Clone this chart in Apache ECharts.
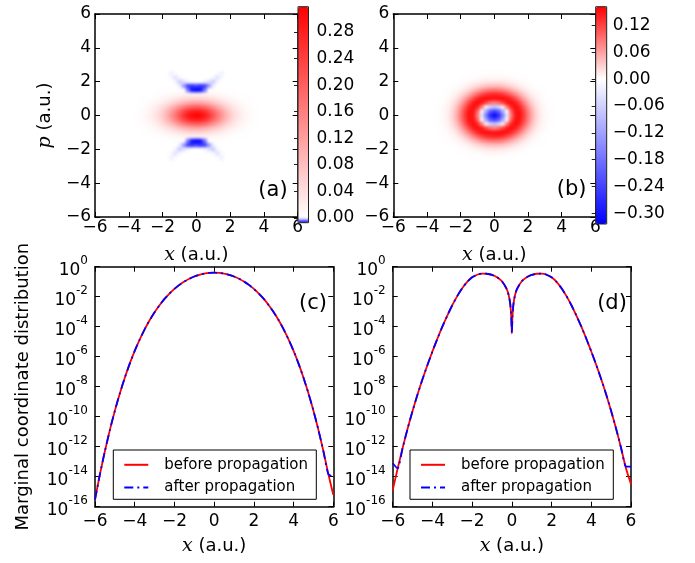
<!DOCTYPE html>
<html><head><meta charset="utf-8">
<script src="https://cdn.jsdelivr.net/npm/echarts@6/dist/echarts.min.js"></script>
<style>
html,body{margin:0;padding:0;background:#fff}
#wrap{position:relative;width:695px;height:563px}
#heat{position:absolute;left:0;top:0;width:695px;height:563px;filter:blur(1.5px)}
#c{position:absolute;left:0;top:0;width:695px;height:563px}
</style>
</head><body><div id="wrap"><div id="heat"></div><div id="c"></div></div>
<script>
// ---------- DATA ----------
const heatX = [-3.5,-3.25,-3,-2.75,-2.5,-2.25,-2,-1.75,-1.5,-1.25,-1,-0.75,-0.5,-0.25,0,0.25,0.5,0.75,1,1.25,1.5,1.75,2,2.25,2.5,2.75,3,3.25,3.5];
const heatP = [2.5,2.25,2,1.75,1.5,1.25,1,0.75,0.5,0.25,0,-0.25,-0.5,-0.75,-1,-1.25,-1.5,-1.75,-2,-2.25,-2.5];

// panel (a) rows (by |p|), columns follow heatX
const wa_p0   = [.0029,.0055,.010,.0174,.029,.045,.068,.098,.134,.174,.217,.256,.289,.310,.318,.310,.289,.256,.217,.174,.134,.098,.068,.045,.029,.0174,.010,.0055,.0029];
const wa_p025 = [.0026,.0049,.0089,.0155,.026,.040,.061,.087,.120,.156,.193,.229,.258,.277,.284,.277,.258,.229,.193,.156,.120,.087,.061,.040,.026,.0155,.0089,.0049,.0026];
const wa_p05  = [.0018,.0035,.0064,.011,.018,.029,.044,.063,.085,.111,.138,.164,.184,.198,.203,.198,.184,.164,.138,.111,.085,.063,.044,.029,.018,.011,.0064,.0035,.0018];
const wa_p075 = [.001,.002,.0036,.0063,.010,.016,.025,.035,.048,.063,.078,.093,.104,.112,.115,.112,.104,.093,.078,.063,.048,.035,.025,.016,.010,.0063,.0036,.002,.001];
const wa_p1   = [.0005,.0009,.0017,.0029,.0047,.0075,.011,.016,.022,.029,.036,.042,.048,.051,.0525,.051,.048,.042,.036,.029,.022,.016,.011,.0075,.0047,.0029,.0017,.0009,.0005];
const wa_p125 = [.0002,.0003,.0006,.001,.0017,.0027,.0041,.0059,.008,.0105,.013,.015,.017,.018,.018,.018,.017,.015,.013,.0105,.008,.0059,.0041,.0027,.0017,.001,.0006,.0003,.0002];
const wa_p15  = [0,.0001,.0002,.0003,.0005,.0008,.0012,.0017,.0023,.003,.0037,.002,-.004,-.007,-.0074,-.007,-.004,.002,.0037,.003,.0023,.0017,.0012,.0008,.0005,.0003,.0002,.0001,0];
const wa_p175 = [0,0,0,0,0,0,0,.0001,.0002,.0003,-.0005,-.003,-.0055,-.006,-.0055,-.006,-.0055,-.003,-.0005,.0003,.0002,.0001,0,0,0,0,0,0,0];
const wa_p2   = [0,0,0,0,0,0,0,0,0,-.0003,-.0015,-.0009,-.0003,0,0,0,-.0003,-.0009,-.0015,-.0003,0,0,0,0,0,0,0,0,0];
const wa_p225 = [0,0,0,0,0,0,0,0,-.0002,-.0009,-.0002,0,0,0,0,0,0,0,-.0002,-.0009,-.0002,0,0,0,0,0,0,0,0];
const wa_p25  = [0,0,0,0,0,0,0,0,-.0004,-.0001,0,0,0,0,0,0,0,0,0,-.0001,-.0004,0,0,0,0,0,0,0,0];
const Wa = [wa_p25,wa_p225,wa_p2,wa_p175,wa_p15,wa_p125,wa_p1,wa_p075,wa_p05,wa_p025,wa_p0,wa_p025,wa_p05,wa_p075,wa_p1,wa_p125,wa_p15,wa_p175,wa_p2,wa_p225,wa_p25];

// panel (b) rows
const wb_p0   = [.0006,.0018,.0049,.012,.026,.051,.086,.125,.153,.146,.084,-.031,-.164,-.275,-.318,-.275,-.164,-.031,.084,.146,.153,.125,.086,.051,.026,.012,.0049,.0018,.0006];
const wb_p025 = [.0005,.0017,.0046,.011,.025,.048,.082,.121,.151,.151,.102,.0034,-.111,-.207,-.244,-.207,-.111,.0034,.102,.151,.151,.121,.082,.048,.025,.011,.0046,.0017,.0005];
const wb_p05  = [.0004,.0013,.0037,.0092,.020,.040,.070,.107,.141,.156,.139,.084,.008,-.053,-.077,-.053,.008,.084,.139,.156,.141,.107,.070,.040,.020,.0092,.0037,.0013,.0004];
const wb_p075 = [.0003,.0009,.0026,.0065,.015,.029,.053,.084,.118,.146,.156,.146,.119,.092,.081,.092,.119,.146,.156,.146,.118,.084,.053,.029,.015,.0065,.0026,.0009,.0003];
const wb_p1   = [.0002,.0006,.0016,.004,.0092,.019,.035,.058,.086,.115,.138,.152,.156,.155,.153,.155,.156,.152,.138,.115,.086,.058,.035,.019,.0092,.004,.0016,.0006,.0002];
const wb_p125 = [.0001,.0003,.0008,.0021,.0049,.010,.020,.034,.053,.075,.097,.115,.129,.136,.139,.136,.129,.115,.097,.075,.053,.034,.020,.010,.0049,.0021,.0008,.0003,.0001];
const wb_p15  = [0,.0001,.0004,.001,.0023,.0049,.0095,.017,.027,.040,.054,.068,.079,.086,.088,.086,.079,.068,.054,.040,.027,.017,.0095,.0049,.0023,.001,.0004,.0001,0];
const wb_p175 = [0,0,.0001,.0004,.0009,.002,.0039,.0071,.012,.018,.025,.032,.038,.042,.043,.042,.038,.032,.025,.018,.012,.0071,.0039,.002,.0009,.0004,.0001,0,0];
const wb_p2   = [0,0,0,.0001,.0003,.0006,.0013,.0025,.0042,.0065,.0092,.012,.015,.016,.017,.016,.015,.012,.0092,.0065,.0042,.0025,.0013,.0006,.0003,.0001,0,0,0];
const wb_p225 = [0,0,0,0,.0001,.0002,.0004,.0007,.0012,.002,.0028,.0038,.0046,.0052,.0054,.0052,.0046,.0038,.0028,.002,.0012,.0007,.0004,.0002,.0001,0,0,0,0];
const wb_p25  = [0,0,0,0,0,0,0,.0001,.0002,.0004,.0007,.0009,.0012,.0013,.0014,.0013,.0012,.0009,.0007,.0004,.0002,.0001,0,0,0,0,0,0,0];
const Wb = [wb_p25,wb_p225,wb_p2,wb_p175,wb_p15,wb_p125,wb_p1,wb_p075,wb_p05,wb_p025,wb_p0,wb_p025,wb_p05,wb_p075,wb_p1,wb_p125,wb_p15,wb_p175,wb_p2,wb_p225,wb_p25];

const cbarTicksA = [0,0.04,0.08,0.12,0.16,0.20,0.24,0.28];
const cbarTicksB = [-0.30,-0.24,-0.18,-0.12,-0.06,0,0.06,0.12];
const logTicks = [1e-16,1e-14,1e-12,1e-10,1e-8,1e-6,1e-4,1e-2,1];

// panel (c)
const xC = [-6,-5.75,-5.5,-5.25,-5,-4.75,-4.5,-4.25,-4,-3.75,-3.5,-3.25,-3,-2.75,-2.5,-2.25,-2,-1.75,-1.5,-1.25,-1,-0.75,-0.5,-0.25,0,0.25,0.5,0.75,1,1.25,1.5,1.75,2,2.25,2.5,2.75,3,3.25,3.5,3.75,4,4.25,4.5,4.75,5,5.25,5.5,5.75,6];
const cBefore = [3.0e-16,1.48e-14,5.19e-13,1.32e-11,2.48e-10,3.56e-9,3.94e-8,3.45e-7,2.43e-6,1.40e-5,6.67e-5,2.68e-4,9.18e-4,2.72e-3,7.08e-3,0.0162,0.0333,0.0614,0.103,0.157,0.221,0.286,0.344,0.384,0.398,0.384,0.344,0.286,0.221,0.157,0.103,0.0614,0.0333,0.0162,7.08e-3,2.72e-3,9.18e-4,2.68e-4,6.67e-5,1.40e-5,2.43e-6,3.45e-7,3.94e-8,3.56e-9,2.48e-10,1.32e-11,5.19e-13,1.48e-14,6.3e-16];
const cAfter  = [3.0e-16,1.48e-14,5.19e-13,1.32e-11,2.48e-10,3.56e-9,3.94e-8,3.45e-7,2.43e-6,1.40e-5,6.67e-5,2.68e-4,9.18e-4,2.72e-3,7.08e-3,0.0162,0.0333,0.0614,0.103,0.157,0.221,0.286,0.344,0.384,0.398,0.384,0.344,0.286,0.221,0.157,0.103,0.0614,0.0333,0.0162,7.08e-3,2.72e-3,9.18e-4,2.68e-4,6.67e-5,1.40e-5,2.43e-6,3.45e-7,3.94e-8,3.56e-9,2.48e-10,1.32e-11,5.19e-13,1.48e-14,1.0e-14];

// panel (d)
const xD = [-6,-5.75,-5.5,-5.25,-5,-4.75,-4.5,-4.25,-4,-3.75,-3.5,-3.25,-3,-2.75,-2.5,-2.25,-2,-1.75,-1.5,-1.25,-1,-0.75,-0.5,-0.25,-0.15,-0.08,-0.03,0,0.03,0.08,0.15,0.25,0.5,0.75,1,1.25,1.5,1.75,2,2.25,2.5,2.75,3,3.25,3.5,3.75,4,4.25,4.5,4.75,5,5.25,5.5,5.75,6];
const dBefore = [1.26e-15,3.55e-14,8.3e-13,1.58e-11,2.4e-10,3.02e-9,3.16e-8,2.82e-7,2.24e-6,1.58e-5,1.0e-4,5.5e-4,2.69e-3,0.011,0.0367,0.0977,0.195,0.292,0.347,0.339,0.282,0.2,0.107,0.031,0.0112,3.2e-3,4.5e-4,3.6e-5,4.5e-4,3.2e-3,0.0112,0.031,0.107,0.2,0.282,0.339,0.347,0.292,0.195,0.0977,0.0367,0.011,2.69e-3,5.5e-4,1.0e-4,1.58e-5,2.24e-6,2.82e-7,3.16e-8,3.02e-9,2.4e-10,1.58e-11,8.3e-13,3.55e-14,3.2e-15];
const dAfter  = [7.9e-14,3.55e-14,8.3e-13,1.58e-11,2.4e-10,3.02e-9,3.16e-8,2.82e-7,2.24e-6,1.58e-5,1.0e-4,5.5e-4,2.69e-3,0.011,0.0367,0.0977,0.195,0.292,0.347,0.339,0.282,0.2,0.107,0.031,0.0112,3.2e-3,4.5e-4,3.6e-5,4.5e-4,3.2e-3,0.0112,0.031,0.107,0.2,0.282,0.339,0.347,0.292,0.195,0.0977,0.0367,0.011,2.69e-3,5.5e-4,1.0e-4,1.58e-5,2.24e-6,2.82e-7,3.16e-8,3.02e-9,2.4e-10,1.58e-11,8.3e-13,4.7e-14,4.7e-14];

const seriesNames = ['before propagation','after propagation'];
const panelLabels = ['(a)','(b)','(c)','(d)'];

// ---------- STYLE / LAYOUT ----------
const FONT = 'DejaVu Sans';
const BLACK = '#000';
const TICK_FS = 17;
const HALF = 0.125; // half cell width (data units)
const minus = s => String(s).replace('-', '\u2212');

const colorsA = ['#0000ff'];
for (let k = 0; k <= 43; k++) { const c = Math.round(255 * (1 - k / 43)); colorsA.push('rgb(255,' + c + ',' + c + ')'); }
const colorsB = ['#0000ff', '#8080ff', '#ffffff', '#ff0000'];
const rangeA = [-0.0074, 0.3182];
const rangeB = [-0.324, 0.162];

const gridA = {left: 95, top: 14, width: 202.7, height: 203};
const gridB = {left: 393.3, top: 14, width: 202, height: 203};
const cbarA = {left: 298, top: 6.7, width: 10.5, height: 216};
const cbarB = {left: 595.7, top: 6.7, width: 11, height: 217.3};
const gridC = {left: 95, top: 266.7, width: 238.3, height: 240};
const gridD = {left: 392.7, top: 266.7, width: 238.3, height: 240};
const legendBoxes = [{x: 113.3, y: 450, width: 203, height: 49.3}, {x: 410, y: 450, width: 203.3, height: 49.3}];

function cells(W) {
  const out = [];
  heatP.forEach((p, i) => heatX.forEach((x, j) => out.push([x, p, W[i][j]])));
  return out;
}
function cellRender(params, api) {
  const x = api.value(0), p = api.value(1);
  const a = api.coord([x - HALF, p + HALF]);
  const b = api.coord([x + HALF, p - HALF]);
  return {type: 'rect', shape: {x: a[0], y: a[1], width: b[0] - a[0] + 0.6, height: b[1] - a[1] + 0.6},
          style: {fill: api.visual('color')}};
}

// ---------- heat layer (smoothed) ----------
const heatChart = echarts.init(document.getElementById('heat'), null, {renderer: 'canvas'});
heatChart.setOption({
  animation: false,
  backgroundColor: '#fff',
  grid: [gridA, gridB].map(g => Object.assign({outerBoundsMode: 'none', containLabel: false}, g)),
  xAxis: [0, 1].map(i => ({type: 'value', gridIndex: i, min: -6, max: 6, show: false})),
  yAxis: [0, 1].map(i => ({type: 'value', gridIndex: i, min: -6, max: 6, show: false})),
  visualMap: [
    {type: 'continuous', show: false, seriesIndex: 0, dimension: 2, min: rangeA[0], max: rangeA[1], inRange: {color: colorsA}},
    {type: 'continuous', show: false, seriesIndex: 1, dimension: 2, min: rangeB[0], max: rangeB[1], inRange: {color: colorsB}}
  ],
  series: [
    {type: 'custom', xAxisIndex: 0, yAxisIndex: 0, data: cells(Wa), renderItem: cellRender, clip: true, silent: true, encode: {x: 0, y: 1}},
    {type: 'custom', xAxisIndex: 1, yAxisIndex: 1, data: cells(Wb), renderItem: cellRender, clip: true, silent: true, encode: {x: 0, y: 1}}
  ]
});

// ---------- main layer ----------
const xName = {
  name: '{i|x} (a.u.)', nameLocation: 'middle',
  nameTextStyle: {fontSize: 18, fontFamily: FONT, color: BLACK,
    rich: {i: {fontFamily: 'DejaVu Serif', fontStyle: 'italic', fontSize: 19, color: BLACK}}}
};
function boxAxis(gridIndex, position, showLabels, margin, extra) {
  return Object.assign({
    type: 'value', gridIndex, position, min: -6, max: 6, interval: 2,
    axisLine: {show: true, onZero: false, lineStyle: {color: BLACK, width: 1.5}},
    axisTick: {show: true, inside: true, length: 5, lineStyle: {color: BLACK, width: 1}},
    axisLabel: {show: showLabels, color: BLACK, fontSize: TICK_FS, fontFamily: FONT, margin: margin, formatter: v => minus(v)},
    splitLine: {show: false}
  }, extra || {});
}
function logAxis(gridIndex, position, showLabels, extra) {
  return Object.assign({
    type: 'log', logBase: 10, gridIndex, position, min: 1e-16, max: 1,
    axisLine: {show: true, onZero: false, lineStyle: {color: BLACK, width: 1.5}},
    axisTick: {show: true, inside: true, length: 5, customValues: logTicks, lineStyle: {color: BLACK, width: 1}},
    minorTick: {show: false},
    axisLabel: {show: showLabels, customValues: logTicks, margin: 7,
      formatter: v => '{b|10}{s|' + Math.round(Math.log10(v)) + '}',
      rich: {b: {fontSize: TICK_FS, fontFamily: FONT, color: BLACK, lineHeight: 24, verticalAlign: 'bottom'},
             s: {fontSize: 12, fontFamily: FONT, color: BLACK, lineHeight: 9, verticalAlign: 'top'}}},
    splitLine: {show: false}
  }, extra || {});
}
function cbarAxis(gridIndex, range, ticks, margin) {
  return {
    type: 'value', gridIndex, position: 'right', min: range[0], max: range[1], z: 10,
    axisLine: {show: false},
    axisTick: {show: true, inside: true, length: 4, customValues: ticks, lineStyle: {color: '#222', width: 1}},
    axisLabel: {show: true, customValues: ticks, color: BLACK, fontSize: TICK_FS, fontFamily: FONT, margin: margin,
      formatter: v => minus(Number(v).toFixed(2))},
    splitLine: {show: false}
  };
}

const cbarStyle = {show: true, borderColor: '#222', borderWidth: 1, backgroundColor: 'transparent', z: 10};
const grids = [gridA, Object.assign({}, cbarA, cbarStyle), gridB, Object.assign({}, cbarB, cbarStyle), gridC, gridD]
  .map(g => Object.assign({outerBoundsMode: 'none', containLabel: false}, g));

const xAxes = [
  boxAxis(0, 'bottom', true, 2, Object.assign({nameGap: 29}, xName)),
  boxAxis(0, 'top', false, 2),
  {type: 'value', gridIndex: 1, min: 0, max: 1, show: false},
  boxAxis(2, 'bottom', true, 2, Object.assign({nameGap: 29}, xName)),
  boxAxis(2, 'top', false, 2),
  {type: 'value', gridIndex: 3, min: 0, max: 1, show: false},
  boxAxis(4, 'bottom', true, 6, Object.assign({nameGap: 30}, xName)),
  boxAxis(4, 'top', false, 6),
  boxAxis(5, 'bottom', true, 6, Object.assign({nameGap: 30}, xName)),
  boxAxis(5, 'top', false, 6)
];
const yAxes = [
  boxAxis(0, 'left', true, 4, {name: '{i|p} (a.u.)', nameLocation: 'middle', nameGap: 40,
    nameTextStyle: {fontSize: 18, fontFamily: FONT, color: BLACK,
      rich: {i: {fontFamily: 'DejaVu Serif', fontStyle: 'italic', fontSize: 19, color: BLACK}}}}),
  boxAxis(0, 'right', false, 4),
  cbarAxis(1, rangeA, cbarTicksA, 8),
  boxAxis(2, 'left', true, 4),
  boxAxis(2, 'right', false, 4),
  cbarAxis(3, rangeB, cbarTicksB, 6),
  logAxis(4, 'left', true, {name: 'Marginal coordinate distribution', nameLocation: 'middle', nameGap: 63,
    nameTextStyle: {fontSize: 18, fontFamily: FONT, color: BLACK}}),
  logAxis(4, 'right', false),
  logAxis(5, 'left', true),
  logAxis(5, 'right', false)
];

function lineSeries(name, xs, ys, xi, color, dash, z) {
  return {type: 'line', name, xAxisIndex: xi, yAxisIndex: xi, data: xs.map((x, i) => [x, ys[i]]),
    showSymbol: false, symbol: 'none', z, clip: true, silent: true, smooth: 0.2,
    lineStyle: {color, width: 1.8, type: dash || 'solid'}, itemStyle: {color}};
}
const legendBase = {
  data: seriesNames, orient: 'vertical', top: 450, padding: [7.3, 5, 5, 10], itemGap: 7.7,
  itemWidth: 24, itemHeight: 15, borderWidth: 0, backgroundColor: 'transparent', z: 12,
  selectedMode: false, itemStyle: {opacity: 0, borderWidth: 0},
  textStyle: {fontSize: 15, fontFamily: FONT, color: BLACK, padding: [0, 0, 0, 11]}
};
const annot = [[273, 191], [571.7, 190], [313, 304], [612, 304]];

const chart = echarts.init(document.getElementById('c'), null, {renderer: 'canvas'});
chart.setOption({
  animation: false,
  backgroundColor: 'transparent',
  textStyle: {fontFamily: FONT},
  grid: grids,
  xAxis: xAxes,
  yAxis: yAxes,
  visualMap: [
    {type: 'continuous', seriesIndex: [], dimension: 2, min: rangeA[0], max: rangeA[1], inRange: {color: colorsA},
     left: cbarA.left, top: cbarA.top, itemWidth: cbarA.width, itemHeight: cbarA.height, calculable: false, hoverLink: false, padding: 0, z: 1},
    {type: 'continuous', seriesIndex: [], dimension: 2, min: rangeB[0], max: rangeB[1], inRange: {color: colorsB},
     left: cbarB.left, top: cbarB.top, itemWidth: cbarB.width, itemHeight: cbarB.height, calculable: false, hoverLink: false, padding: 0, z: 1}
  ],
  legend: [Object.assign({left: 113.3}, legendBase), Object.assign({left: 410}, legendBase)],
  series: [
    lineSeries(seriesNames[0], xC, cBefore, 6, '#ff0000', null, 3),
    lineSeries(seriesNames[1], xC, cAfter, 6, '#0000ff', [9, 4, 2, 4], 4),
    lineSeries(seriesNames[0], xD, dBefore, 8, '#ff0000', null, 3),
    lineSeries(seriesNames[1], xD, dAfter, 8, '#0000ff', [9, 4, 2, 4], 4)
  ],
  graphic: panelLabels.map((t, i) => ({type: 'text', x: annot[i][0], y: annot[i][1], z: 20,
    style: {text: t, fontSize: 21, fontFamily: FONT, fill: BLACK, align: 'center', verticalAlign: 'middle',
            textAlign: 'center', textVerticalAlign: 'middle'}}))
    .concat(legendBoxes.map(b => ({type: 'rect', z: 11, silent: true,
      shape: {x: b.x, y: b.y, width: b.width, height: b.height},
      style: {fill: '#fff', stroke: BLACK, lineWidth: 1}})))
});
</script></body></html>
